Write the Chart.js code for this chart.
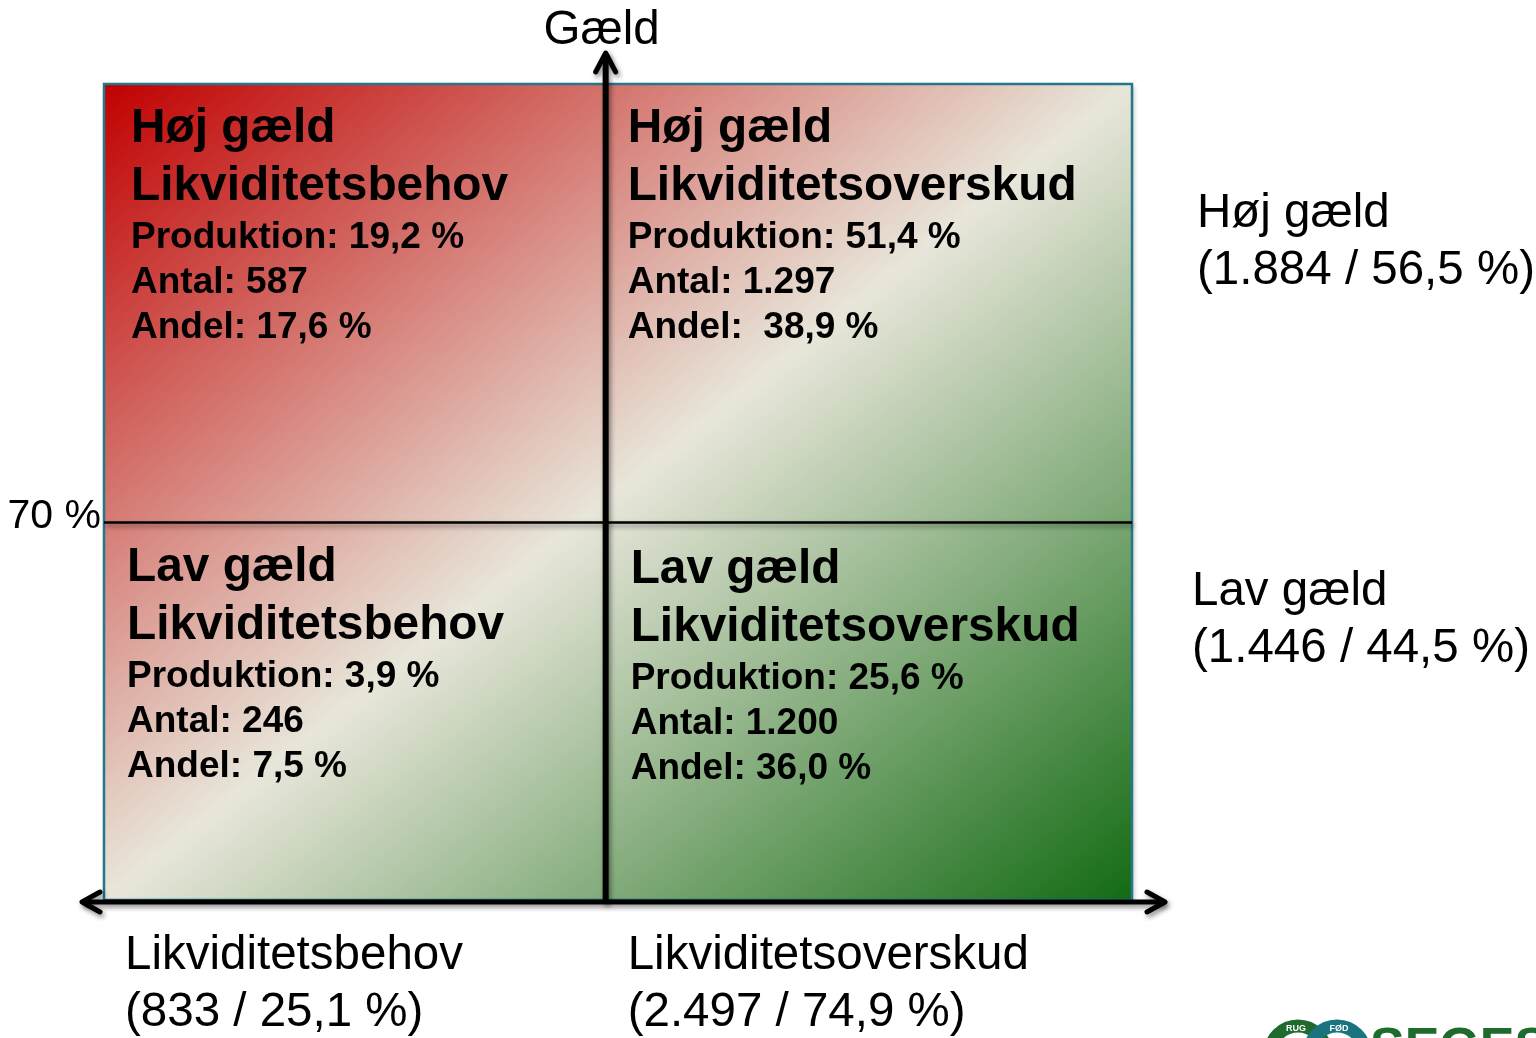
<!DOCTYPE html>
<html>
<head>
<meta charset="utf-8">
<script src="https://cdn.jsdelivr.net/npm/chart.js@4/dist/chart.umd.min.js"></script>
<style>
  html, body { margin: 0; padding: 0; background: #ffffff; }
  #wrap { width: 1536px; height: 1038px; }
</style>
</head>
<body>
<div id="wrap"><canvas id="c" width="1536" height="1038"></canvas></div>
<script>
// ---- data ----
const xEdges = [0, 48.8, 100];          // liquidity axis: behov | overskud
const yEdges = [0, 70, 151.3];          // debt axis, split at 70 %
const ySplitLabel = "70 %";
const quadrantTitles = [
  ["Høj gæld", "Likviditetsbehov"],
  ["Høj gæld", "Likviditetsoverskud"],
  ["Lav gæld", "Likviditetsbehov"],
  ["Lav gæld", "Likviditetsoverskud"]
];
const quadrantCol = [0, 1, 0, 1];
const quadrantRow = [1, 1, 0, 0];       // 1 = upper (høj gæld)
const produktion = [19.2, 51.4, 3.9, 25.6];
const antal = [587, 1297, 246, 1200];
const andel = [17.6, 38.9, 7.5, 36.0];
const andelSep = [" ", "  ", " ", " "];
const rowLabels = ["Høj gæld", "Lav gæld"];
const rowAntal = [1884, 1446];
const rowPct = [56.5, 44.5];
const colLabels = ["Likviditetsbehov", "Likviditetsoverskud"];
const colAntal = [833, 2497];
const colPct = [25.1, 74.9];
const yAxisTitle = "Gæld";

// ---- helpers ----
const pct = v => v.toFixed(1).replace('.', ',') + ' %';
const num = n => String(n).replace(/\B(?=(\d{3})+(?!\d))/g, '.');
const FONT = '"Liberation Sans", Arial, Helvetica, sans-serif';

function arrowHead(ctx, tx, ty, dx, dy, back, half) {
  const px = -dy, py = dx;
  ctx.beginPath();
  ctx.moveTo(tx - dx * back + px * half, ty - dy * back + py * half);
  ctx.lineTo(tx, ty);
  ctx.lineTo(tx - dx * back - px * half, ty - dy * back - py * half);
  ctx.stroke();
}

const quadrantPlugin = {
  id: 'quadrants',
  beforeDatasetsDraw(chart) {
    const { ctx, scales: { x, y } } = chart;
    const L = x.getPixelForValue(xEdges[0]), R = x.getPixelForValue(xEdges[2]);
    const T = y.getPixelForValue(yEdges[2]), B = y.getPixelForValue(yEdges[0]);
    const XS = x.getPixelForValue(xEdges[1]), YS = y.getPixelForValue(yEdges[1]);
    const W = R - L, H = B - T;
    const k = 2 * W * H / (W * W + H * H);
    const g = ctx.createLinearGradient(L, T, L + H * k, T + W * k);
    g.addColorStop(0, '#c00000');
    g.addColorStop(0.5, '#e8e6da');
    g.addColorStop(1, '#136b13');

    ctx.save();
    ctx.shadowColor = 'rgba(0,0,0,0.30)';
    ctx.shadowBlur = 5; ctx.shadowOffsetX = 2; ctx.shadowOffsetY = 2;
    ctx.fillStyle = g;
    for (let c = 0; c < 2; c++) {
      for (let r = 0; r < 2; r++) {
        const x0 = x.getPixelForValue(xEdges[c]), x1 = x.getPixelForValue(xEdges[c + 1]);
        const y0 = y.getPixelForValue(yEdges[r + 1]), y1 = y.getPixelForValue(yEdges[r]);
        ctx.fillRect(x0, y0, x1 - x0, y1 - y0);
      }
    }
    ctx.shadowColor = 'transparent';
    ctx.fillStyle = g;
    ctx.fillRect(L, T, W, H);
    ctx.strokeStyle = '#23788a';
    ctx.lineWidth = 2.5;
    ctx.strokeRect(L, T, W, H);

    ctx.shadowColor = 'rgba(0,0,0,0.45)';
    ctx.shadowBlur = 5; ctx.shadowOffsetX = 2; ctx.shadowOffsetY = 3;
    ctx.strokeStyle = '#000';
    ctx.lineCap = 'butt';
    ctx.lineWidth = 2.5;
    ctx.beginPath(); ctx.moveTo(L, YS); ctx.lineTo(R, YS); ctx.stroke();
    ctx.lineWidth = 6;
    ctx.beginPath(); ctx.moveTo(XS, B + 3); ctx.lineTo(XS, 54); ctx.stroke();
    ctx.lineWidth = 5;
    const ay = B + 2;
    ctx.beginPath(); ctx.moveTo(83, ay); ctx.lineTo(1164, ay); ctx.stroke();
    ctx.lineWidth = 5; ctx.lineJoin = 'round'; ctx.lineCap = 'round';
    arrowHead(ctx, XS, 53, 0, -1, 19, 10);
    arrowHead(ctx, 82, ay, -1, 0, 18, 10);
    arrowHead(ctx, 1165, ay, 1, 0, 18, 10);
    ctx.restore();

    ctx.save();
    ctx.fillStyle = '#000';
    ctx.textAlign = 'left';
    ctx.textBaseline = 'alphabetic';
    const padX = [27, 22, 23, 25];
    const padY = [58, 58, 59, 61];
    for (let i = 0; i < 4; i++) {
      const c = quadrantCol[i], r = quadrantRow[i];
      const qx = x.getPixelForValue(xEdges[c]) + padX[i];
      const qTop = y.getPixelForValue(yEdges[r + 1]);
      let by = qTop + padY[i];
      ctx.font = 'bold 47.8px ' + FONT;
      ctx.fillText(quadrantTitles[i][0], qx, by);
      by += 58;
      ctx.fillText(quadrantTitles[i][1], qx, by);
      ctx.font = 'bold 37px ' + FONT;
      by += 48;
      ctx.fillText('Produktion: ' + pct(produktion[i]), qx, by);
      by += 45;
      ctx.fillText('Antal: ' + num(antal[i]), qx, by);
      by += 45;
      ctx.fillText('Andel:' + andelSep[i] + pct(andel[i]), qx, by);
    }

    ctx.font = '47.5px ' + FONT;
    ctx.textAlign = 'center';
    ctx.fillText(yAxisTitle, XS - 4, 44);
    ctx.textAlign = 'left';
    const rowX = [1197, 1192];
    const rowY = [y.getPixelForValue(yEdges[2]) + 143, y.getPixelForValue(yEdges[1]) + 83];
    for (let r = 0; r < 2; r++) {
      ctx.fillText(rowLabels[r], rowX[r], rowY[r]);
      ctx.fillText('(' + num(rowAntal[r]) + ' / ' + pct(rowPct[r]) + ')', rowX[r], rowY[r] + 57);
    }
    const colX = [L + 21, XS + 22];
    for (let c = 0; c < 2; c++) {
      ctx.fillText(colLabels[c], colX[c], B + 69);
      ctx.fillText('(' + num(colAntal[c]) + ' / ' + pct(colPct[c]) + ')', colX[c], B + 126);
    }
    ctx.font = '41px ' + FONT;
    ctx.textAlign = 'right';
    ctx.fillText(ySplitLabel, L - 3, YS + 6);

    // SEGES logo (partially visible at bottom edge)
    ctx.lineWidth = 13;
    ctx.strokeStyle = '#1f6b2d';
    ctx.beginPath(); ctx.arc(1298, 1054, 28, 0, Math.PI * 2); ctx.stroke();
    ctx.strokeStyle = '#1a7480';
    ctx.beginPath(); ctx.arc(1337, 1054, 28, 0, Math.PI * 2); ctx.stroke();
    ctx.fillStyle = '#ffffff';
    ctx.font = 'bold 9px ' + FONT;
    ctx.textAlign = 'center';
    ctx.fillText('RUG', 1296, 1031);
    ctx.fillText('FØD', 1339, 1031);
    ctx.fillStyle = '#1f6b2d';
    ctx.font = 'bold 52px ' + FONT;
    ctx.textAlign = 'left';
    ctx.fillText('SEGES', 1370, 1064);
    ctx.restore();
  }
};

new Chart(document.getElementById('c'), {
  type: 'scatter',
  data: { datasets: [{ data: [], pointRadius: 0 }] },
  options: {
    responsive: false,
    animation: false,
    layout: { padding: { left: 104, right: 404, top: 84, bottom: 138 } },
    plugins: { legend: { display: false }, tooltip: { enabled: false } },
    scales: {
      x: { type: 'linear', display: false, min: xEdges[0], max: xEdges[2] },
      y: { type: 'linear', display: false, min: yEdges[0], max: yEdges[2] }
    }
  },
  plugins: [quadrantPlugin]
});
</script>
</body>
</html>
